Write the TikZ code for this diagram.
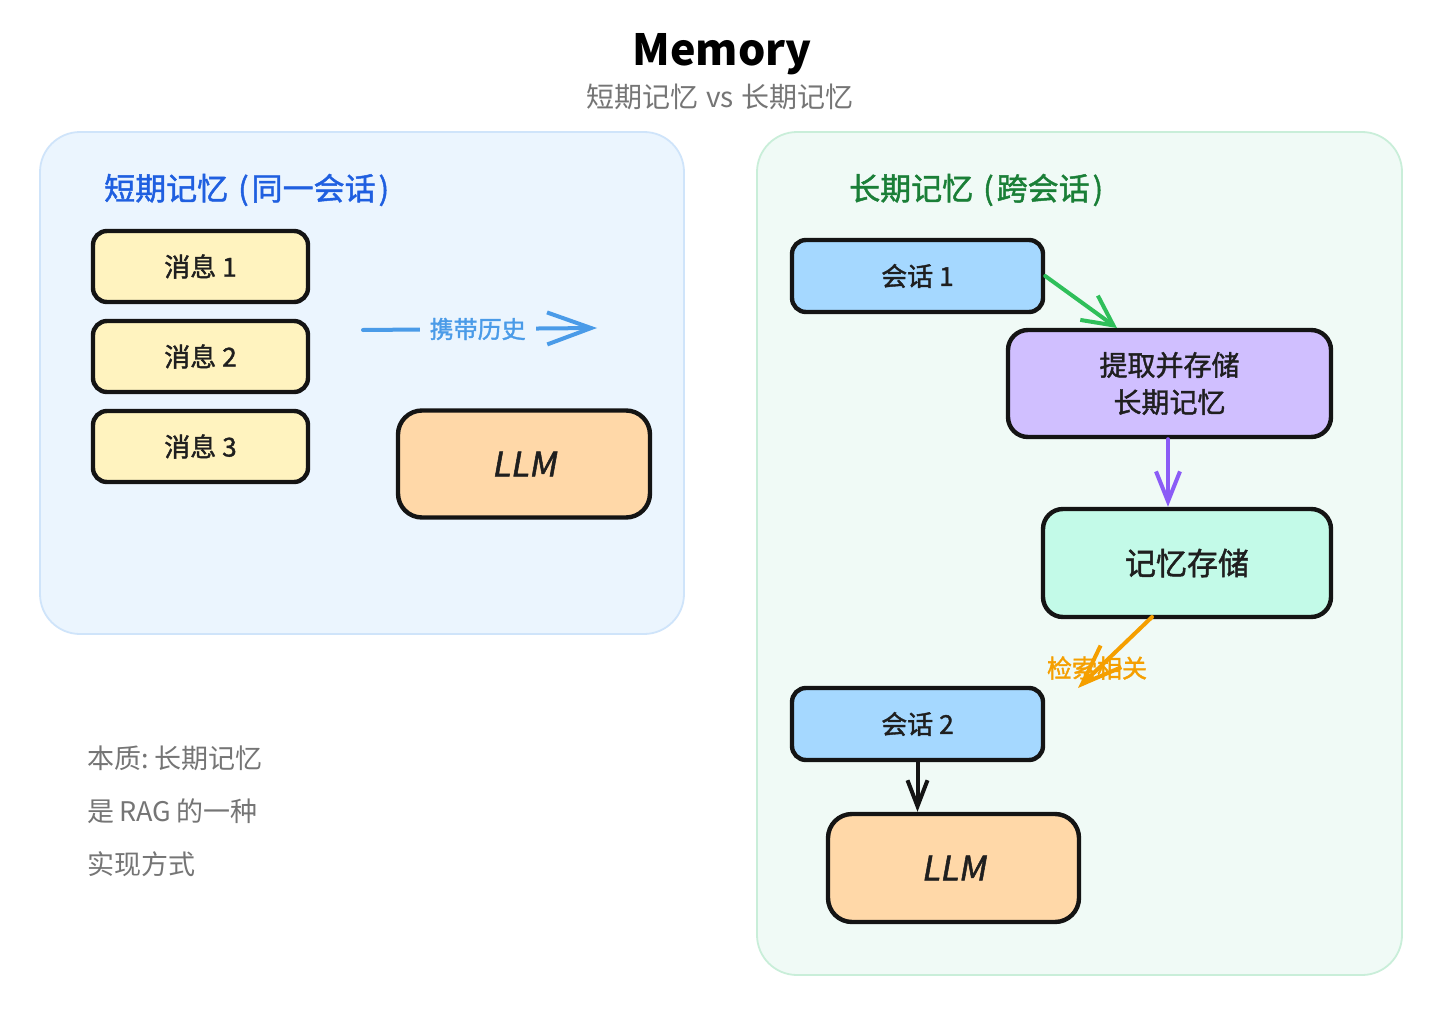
\documentclass[tikz,border=0pt]{standalone}
\usepackage{fontspec}
\setmainfont{Noto Sans CJK SC}
\newfontfamily\slantfont[FakeSlant=0.18,FakeBold=1.5]{Noto Sans CJK SC}
\newfontfamily\medfont[FakeBold=1.5]{Noto Sans CJK SC}
\usetikzlibrary{arrows.meta}
\definecolor{leftbg}{HTML}{EBF5FE}
\definecolor{leftline}{HTML}{CFE4FA}
\definecolor{rightbg}{HTML}{F0FAF6}
\definecolor{rightline}{HTML}{C9EED9}
\definecolor{msgfill}{HTML}{FFF3BF}
\definecolor{llmfill}{HTML}{FFD8A8}
\definecolor{sessfill}{HTML}{A5D8FF}
\definecolor{purpfill}{HTML}{D0BFFF}
\definecolor{storefill}{HTML}{C3FAE8}
\definecolor{greytext}{HTML}{757575}
\definecolor{bluetitle}{HTML}{1F5FE0}
\definecolor{greentitle}{HTML}{1A7F37}
\definecolor{bluearrow}{HTML}{4A9BE8}
\definecolor{greenarrow}{HTML}{2FBF5A}
\definecolor{purparrow}{HTML}{8B5CF6}
\definecolor{orangearrow}{HTML}{F59F00}
\tikzset{
  panel/.style={rounded corners=40pt, line width=1.8pt},
  sketchbox/.style={draw=black!92, line width=4.4pt, rounded corners=14pt, inner sep=0pt, font=\fontsize{26}{30}\selectfont\medfont, text=black!88},
  msgbox/.style={sketchbox, fill=msgfill, minimum width=215pt, minimum height=71pt},
  llmbox/.style={sketchbox, fill=llmfill, minimum width=252pt, minimum height=107pt, rounded corners=24pt, font=\fontsize{34}{40}\selectfont\slantfont},
  sessbox/.style={sketchbox, fill=sessfill, minimum width=251pt, minimum height=72pt},
  sarrow/.style={line width=4pt, line cap=round, -{Straight Barb[length=30pt,width=30pt,line width=4pt]}},
  ntext/.style={anchor=west, text=greytext, font=\fontsize{27}{30}\selectfont},
}
\begin{document}
\begin{tikzpicture}[x=1pt,y=-1pt]
\useasboundingbox (0,0) rectangle (1440,1014);
\fill[white] (0,0) rectangle (1440,1014);

% titles
\node (title) at (722,54) {\fontsize{43}{50}\selectfont\bfseries Memory};
\node[text=greytext] (subtitle) at (720,97) {\fontsize{28}{32}\selectfont 短期记忆\hspace{8pt}vs\hspace{8pt}长期记忆};

% panels
\draw[panel, fill=leftbg, draw=leftline] (40,132) rectangle (684,634);
\draw[panel, fill=rightbg, draw=rightline] (757,132) rectangle (1402,975);

\node[anchor=west, text=bluetitle, inner sep=0pt] (ltitle) at (104,190) {\fontsize{31}{34}\selectfont\medfont 短期记忆\hspace{10pt}(\hspace{3pt}同一会话\hspace{3pt})};
\node[anchor=west, text=greentitle, inner sep=0pt] (rtitle) at (849,190) {\fontsize{31}{34}\selectfont\medfont 长期记忆\hspace{10pt}(\hspace{3pt}跨会话\hspace{3pt})};

% left side
\node[msgbox] (m1) at (200.5,266.5) {消息\hspace{6pt}1};
\node[msgbox] (m2) at (200.5,356.5) {消息\hspace{6pt}2};
\node[msgbox] (m3) at (200.5,446.5) {消息\hspace{6pt}3};
\node[llmbox] (llm1) at (524,464) {LLM};

\coordinate (hs) at (363,330);
\coordinate (he) at (597,328);
\draw[sarrow, draw=bluearrow, -{Straight Barb[length=44pt,width=32pt,line width=4pt]}] (hs) -- node[fill=leftbg, text=bluearrow, font=\fontsize{24}{28}\selectfont\medfont, inner xsep=10pt, pos=0.49] (hlabel) {携带历史} (he);

% right side
\node[sessbox] (s1) at (917.5,276) {会话\hspace{6pt}1};
\node[sketchbox, fill=purpfill, minimum width=323pt, minimum height=107pt, rounded corners=20pt, align=center, font=\fontsize{28}{37}\selectfont\medfont] (extract) at (1169.5,383.5) {提取并存储\\长期记忆};
\node[sketchbox, fill=storefill, minimum width=288pt, minimum height=108pt, rounded corners=20pt, font=\fontsize{31}{34}\selectfont\medfont] (store) at (1187,563) {记忆存储};
\node[sessbox] (s2) at (917.5,724) {会话\hspace{6pt}2};
\node[llmbox, minimum width=251pt, minimum height=108pt] (llm2) at (953.5,868) {LLM};

\draw[sarrow, draw=greenarrow] (s1.east) -- (1117,328);
\draw[sarrow, draw=purparrow, -{Straight Barb[length=30pt,width=24pt,line width=4pt]}] (extract.south -| 1168,0) -- (store.north -| 1168,0);
\coordinate (os) at (1152,617);
\coordinate (oe) at (1078,688);
\draw[sarrow, draw=orangearrow, -{Straight Barb[length=40pt,width=30pt,line width=4pt]}] (os) -- (oe);
\node[text=orangearrow, font=\fontsize{25}{28}\selectfont\medfont] (olabel) at (1097,668) {检索相关};
\draw[sarrow, draw=black!92, -{Straight Barb[length=26pt,width=20pt,line width=4pt]}] (s2.south) -- (llm2.north -| s2.south);

% note
\node[ntext] (n1) at (84,758) {本质:\hspace{5pt}长期记忆};
\node[ntext] (n2) at (84,811) {是\hspace{5pt}RAG\hspace{5pt}的一种};
\node[ntext] (n3) at (84,864) {实现方式};
\end{tikzpicture}
\end{document}
